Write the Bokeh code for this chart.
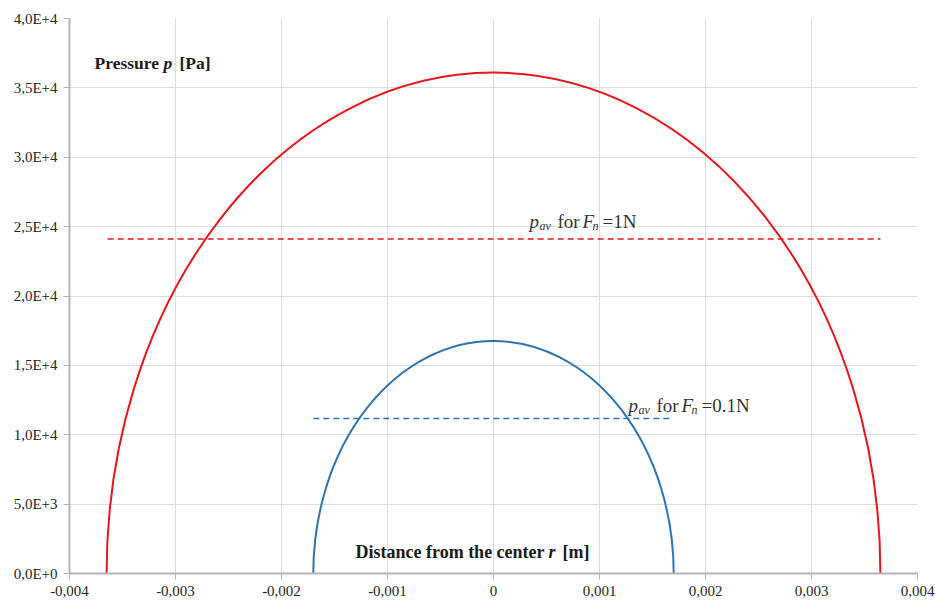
from bokeh.plotting import figure
from bokeh.models import FixedTicker, Label, Range1d
from bokeh.embed import file_html
from bokeh.resources import INLINE

# ---- data ----
# Hertzian pressure profiles: contact half-width a [m] and peak pressure p0 [Pa]
series_names = ["Fn=1N", "Fn=0.1N"]
half_width = [0.00365, 0.0017]
peak_pressure = [36100, 16750]
# average pressure lines (dashed)
pav_x_start = [-0.00364, -0.0017]
pav_x_end = [0.00365, 0.00169]
pav_value = [24100, 11180]

x_ticks = [-0.004, -0.003, -0.002, -0.001, 0.0, 0.001, 0.002, 0.003, 0.004]
x_tick_labels = ["-0,004", "-0,003", "-0,002", "-0,001", "0", "0,001", "0,002", "0,003", "0,004"]
y_ticks = [0, 5000, 10000, 15000, 20000, 25000, 30000, 35000, 40000]
y_tick_labels = ["0,0E+0", "5,0E+3", "1,0E+4", "1,5E+4", "2,0E+4", "2,5E+4", "3,0E+4", "3,5E+4", "4,0E+4"]

COLORS = ["#E8161B", "#2E74B5"]
FONT = "Liberation Serif"
TICK_FONT = "'Liberation Serif', 'Times New Roman', serif"

p = figure(width=935, height=605, output_backend="svg", toolbar_location=None,
           x_range=Range1d(-0.004, 0.004), y_range=Range1d(0, 40000),
           min_border_left=69, min_border_right=18, min_border_top=18, min_border_bottom=32)
p.outline_line_color = None
p.background_fill_color = "white"

# semi-elliptic pressure curves (lower half is clipped by the y range)
for a, p0, c in zip(half_width, peak_pressure, COLORS):
    p.ellipse(x=[0], y=[0], width=[2 * a], height=[2 * p0],
              fill_color=None, line_color=c, line_width=2)

for x0, x1, v, c in zip(pav_x_start, pav_x_end, pav_value, COLORS):
    p.line([x0, x1], [v, v], line_color=c, line_width=1.5, line_dash="6 4")

for ax, ticks, labels in ((p.xaxis[0], x_ticks, x_tick_labels), (p.yaxis[0], y_ticks, y_tick_labels)):
    ax.ticker = FixedTicker(ticks=ticks)
    ax.major_label_overrides = {t: l for t, l in zip(ticks, labels)}
    ax.axis_line_color = "#b3b3b3"
    ax.axis_line_width = 2
    ax.major_tick_line_color = "#b3b3b3"
    ax.major_tick_in = 0
    ax.major_tick_out = 6
    ax.minor_tick_line_color = None
    ax.major_label_text_font = TICK_FONT
    ax.major_label_text_font_size = "15px"
    ax.major_label_text_color = "#262626"
    ax.major_label_standoff = 6

p.xgrid.ticker = FixedTicker(ticks=x_ticks)
p.ygrid.ticker = FixedTicker(ticks=y_ticks)
p.grid.grid_line_color = "#dcdcdc"
p.grid.grid_line_width = 1


def piece(x, y, dx, text, size, style="normal", dy=0, color="#1a1a1a"):
    p.add_layout(Label(x=x, y=y, x_offset=dx, y_offset=dy, text=text, text_font=FONT,
                       text_font_size=size, text_font_style=style, text_color=color,
                       text_baseline="alphabetic", text_align="left"))


# axis titles inside the plot
ax_x, ax_y = -0.003764, 36800
piece(ax_x, ax_y, 0, "Pressure", "17.5px", "bold")
piece(ax_x, ax_y, 69, "p", "17.5px", "bold italic")
piece(ax_x, ax_y, 85, "[Pa]", "17.5px", "bold")

bx_x, bx_y = -0.001302, 1515
piece(bx_x, bx_y, 0, "Distance from the center", "18px", "bold")
piece(bx_x, bx_y, 193, "r", "18px", "bold italic")
piece(bx_x, bx_y, 207, "[m]", "18px", "bold")


# p_av annotations
def pav_label(x, y, rhs):
    piece(x, y, 0, "p", "19px", "italic", color="#333333")
    piece(x, y, 10, "av", "12px", "italic", dy=-5, color="#333333")
    piece(x, y, 28, "for", "19px", color="#333333")
    piece(x, y, 53, "F", "19px", "italic", color="#333333")
    piece(x, y, 63, "n", "12px", "italic", dy=-5, color="#333333")
    piece(x, y, 73, rhs, "19px", color="#333333")


pav_label(0.00034, 25400, "=1N")
pav_label(0.001274, 12120, "=0.1N")

open("out.html", "w").write(file_html(p, INLINE))
